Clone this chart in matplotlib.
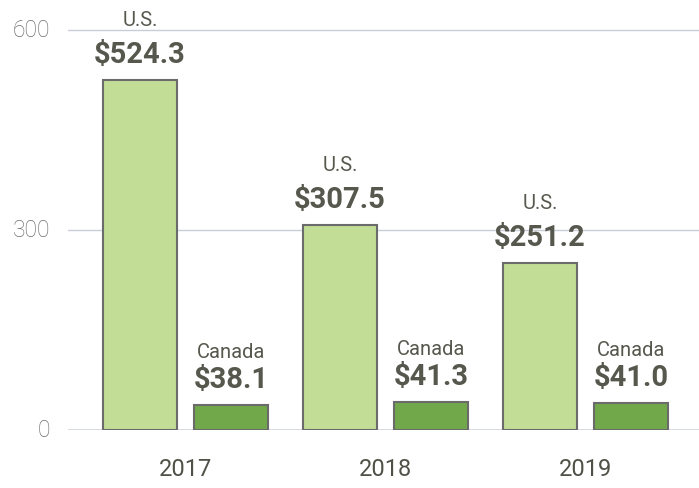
import numpy as np
import matplotlib
matplotlib.use("Agg")
import matplotlib.pyplot as plt

# values in $ millions
years = ["2017", "2018", "2019"]
us = [524.3, 307.5, 251.2]
canada = [38.1, 41.3, 41.0]
yticks = [0, 300, 600]

plt.rcParams['font.family'] = ['Roboto', 'DejaVu Sans']

fig = plt.figure(figsize=(6.99, 4.89), dpi=100)
ax = fig.add_axes([68 / 699, 58 / 489, 631 / 699, 431 / 489])

x = np.arange(len(years))
w = 0.37
off = 0.2275

edge = "#6b6b6b"
b1 = ax.bar(x - off, us, w, color="#c1dd96", edgecolor=edge, linewidth=1.5, zorder=3)
b2 = ax.bar(x + off, canada, w, color="#71a84a", edgecolor=edge, linewidth=1.5, zorder=3)

txt = "#56584d"
px = 0.72  # points per pixel at 100 dpi
for bars, name, gap in ((b1, "U.S.", 55), (b2, "Canada", 48)):
    for b in bars:
        cx = b.get_x() + b.get_width() / 2
        h = b.get_height()
        ax.annotate(f"${h:.1f}", (cx, h), xytext=(0, 18 * px), textcoords="offset points",
                    ha="center", va="baseline", fontsize=21, fontweight="bold",
                    color=txt, annotation_clip=False)
        ax.annotate(name, (cx, h), xytext=(0, gap * px), textcoords="offset points",
                    ha="center", va="baseline", fontsize=14.5, color=txt,
                    annotation_clip=False)

for i, yr in enumerate(years):
    ax.annotate(yr, (i, 0), xytext=(0, -39 * px), textcoords="offset points",
                ha="center", va="center", fontsize=17, color="#4f5147",
                annotation_clip=False)

ax.set_xlim(-0.5875, 2.5675)
ax.set_ylim(0, 646.5)
for v in yticks:
    ax.axhline(v, color="#c8cdd8" if v else "#d2d6de", lw=1.0 if v else 2.0, zorder=1)
    ax.text(-0.5875 - 18 / 200, v, str(v), ha="right", va="center", fontsize=16.5,
            fontweight="light", color="#6c6c6c")

ax.set_xticks([])
ax.set_yticks([])
for s in ax.spines.values():
    s.set_visible(False)

fig.savefig("out.png", dpi=100)
